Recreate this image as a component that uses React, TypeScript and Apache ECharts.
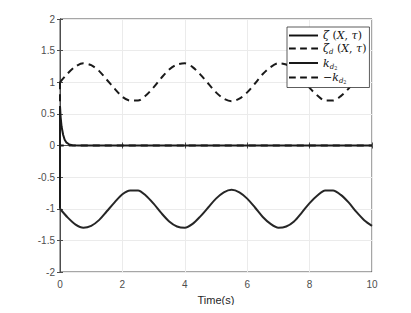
import React, { useEffect, useRef } from "react";
import * as echarts from "echarts";

// time samples (s)
const T = [0, 0.25, 0.5, 0.75, 1, 1.25, 1.5, 1.75, 2, 2.25, 2.5, 2.75, 3, 3.25, 3.5, 3.75, 4, 4.25, 4.5, 4.75, 5,
  5.25, 5.5, 5.75, 6, 6.25, 6.5, 6.75, 7, 7.25, 7.5, 7.75, 8, 8.25, 8.5, 8.75, 9, 9.25, 9.5, 9.75, 10];
// upper dashed envelope
const upperBound = [1.0, 1.14, 1.25, 1.3, 1.27, 1.18, 1.04, 0.9, 0.77, 0.71, 0.71, 0.79, 0.92, 1.07, 1.2, 1.28,
  1.3, 1.24, 1.12, 0.98, 0.84, 0.74, 0.7, 0.74, 0.84, 0.98, 1.13, 1.24, 1.3, 1.28, 1.2, 1.06, 0.91, 0.79, 0.71,
  0.71, 0.78, 0.9, 1.05, 1.18, 1.27];
// lower solid envelope
const lowerBound = [-1.0, -1.14, -1.25, -1.3, -1.27, -1.18, -1.04, -0.9, -0.77, -0.71, -0.71, -0.79, -0.92, -1.07,
  -1.2, -1.28, -1.3, -1.24, -1.12, -0.98, -0.84, -0.74, -0.7, -0.74, -0.84, -0.98, -1.13, -1.24, -1.3, -1.28, -1.2,
  -1.06, -0.91, -0.79, -0.71, -0.71, -0.78, -0.9, -1.05, -1.18, -1.27];
// zeta(X,tau) transient (starts with the jump at t = 0)
const zetaT = [0, 0, 0.02, 0.05, 0.1, 0.15, 0.2, 0.3, 0.4, 0.6, 10];
const zetaV = [-1.0, 0.62, 0.45, 0.3, 0.17, 0.09, 0.05, 0.015, 0.005, 0, 0];
// zeta_d(X,tau)
const zetaDT = [0, 0, 10];
const zetaDV = [1.0, 0, 0];
// tick labels
const xTicks = [0, 2, 4, 6, 8, 10];
const yTicks = [-2, -1.5, -1, -0.5, 0, 0.5, 1, 1.5, 2];

const pairs = (xs: number[], ys: number[]) => xs.map((x, i) => [x, ys[i]]);

const SOLID_ICON = "path://M0,0H30V2H0Z";
const DASH_ICON = "path://M0,0H7V2H0Z M11.5,0H18.5V2H11.5Z M23,0H30V2H23Z";

export default function App() {
  const ref = useRef<HTMLDivElement>(null);
  useEffect(() => {
    const chart = echarts.init(ref.current!, null, { renderer: "svg" });
    const axisColor = "#4d4d4d";
    const lineCol = "#1a1a1a";
    const labelFont = { fontFamily: "Liberation Sans, Arial, sans-serif", fontSize: 10, color: "#4d4d4d" };
    const legendMap: Record<string, string> = {
      zeta: "{i|ζ}{n| (}{i|X}{n|, }{i|τ}{n|)}",
      zetad: "{i|ζ}{s|d}{n| (}{i|X}{n|, }{i|τ}{n|)}",
      kd2: "{i|k}{s|d}{ss|2}",
      mkd2: "{n|−}{i|k}{s|d}{ss|2}",
    };
    const serif = "DejaVu Serif, serif";
    chart.setOption({
      animation: false,
      grid: { left: 60, right: 39, top: 19, bottom: 41, show: true, borderColor: axisColor, borderWidth: 1 },
      xAxis: [
        {
          type: "value", min: 0, max: 10, interval: 2,
          name: "Time(s)", nameLocation: "middle", nameGap: 22,
          nameTextStyle: { ...labelFont, fontSize: 11, color: "#262626" },
          axisLine: { lineStyle: { color: axisColor } },
          axisTick: { inside: true, length: 3, lineStyle: { color: axisColor } },
          axisLabel: { ...labelFont, margin: 7, formatter: (v: number) => (xTicks.includes(v) ? String(v) : "") },
          splitLine: { show: true, lineStyle: { color: "#ebebeb" } },
        },
        {
          type: "value", min: 0, max: 10, interval: 2, position: "top",
          axisLine: { lineStyle: { color: axisColor } },
          axisTick: { inside: true, length: 3, lineStyle: { color: axisColor } },
          axisLabel: { show: false }, splitLine: { show: false },
        },
      ],
      yAxis: [
        {
          type: "value", min: -2, max: 2, interval: 0.5,
          axisLine: { show: true, lineStyle: { color: axisColor } },
          axisTick: { show: true, inside: true, length: 3, lineStyle: { color: axisColor } },
          axisLabel: { ...labelFont, margin: 5, formatter: (v: number) => (yTicks.includes(v) ? String(v) : "") },
          splitLine: { show: true, lineStyle: { color: "#ebebeb" } },
        },
        {
          type: "value", min: -2, max: 2, interval: 0.5, position: "right",
          axisLine: { show: true, lineStyle: { color: axisColor } },
          axisTick: { show: true, inside: true, length: 3, lineStyle: { color: axisColor } },
          axisLabel: { show: false }, splitLine: { show: false },
        },
      ],
      legend: {
        orient: "vertical", left: 287, top: 27,
        backgroundColor: "#fff", borderColor: "#333", borderWidth: 0.8,
        padding: [3, 3, 3, 2], itemWidth: 29, itemHeight: 2, itemGap: 2,
        data: [
          { name: "zeta", icon: SOLID_ICON },
          { name: "zetad", icon: DASH_ICON },
          { name: "kd2", icon: SOLID_ICON },
          { name: "mkd2", icon: DASH_ICON },
        ],
        itemStyle: { color: "#111", borderWidth: 0 },
        formatter: (name: string) => legendMap[name],
        textStyle: {
          rich: {
            i: { fontFamily: serif, fontStyle: "italic", fontSize: 11, color: "#111", verticalAlign: "middle", lineHeight: 14 },
            n: { fontFamily: serif, fontSize: 11, color: "#111", verticalAlign: "middle", lineHeight: 14 },
            s: { fontFamily: serif, fontStyle: "italic", fontSize: 7, color: "#111", verticalAlign: "bottom", lineHeight: 14 },
            ss: { fontFamily: serif, fontSize: 5, color: "#111", verticalAlign: "bottom", lineHeight: 12 },
          },
        },
      },
      series: [
        {
          name: "zeta", type: "line", data: pairs(zetaT, zetaV), symbol: "none", z: 3,
          lineStyle: { color: lineCol, width: 2 }, itemStyle: { color: lineCol },
        },
        {
          name: "zetad", type: "line", data: pairs(zetaDT, zetaDV), symbol: "none", z: 4,
          lineStyle: { color: lineCol, width: 2, type: [7, 5] }, itemStyle: { color: lineCol },
        },
        {
          name: "kd2", type: "line", data: pairs(T, lowerBound), symbol: "none", smooth: 0.3, z: 3,
          lineStyle: { color: "#262626", width: 2 }, itemStyle: { color: lineCol },
        },
        {
          name: "mkd2", type: "line", data: pairs(T, upperBound), symbol: "none", smooth: 0.3, z: 3,
          lineStyle: { color: lineCol, width: 2, type: [7, 5] }, itemStyle: { color: lineCol },
        },
      ],
    });
    return () => chart.dispose();
  }, []);
  return <div ref={ref} style={{ width: 411, height: 313, margin: -8, background: "#fff" }} />;
}
